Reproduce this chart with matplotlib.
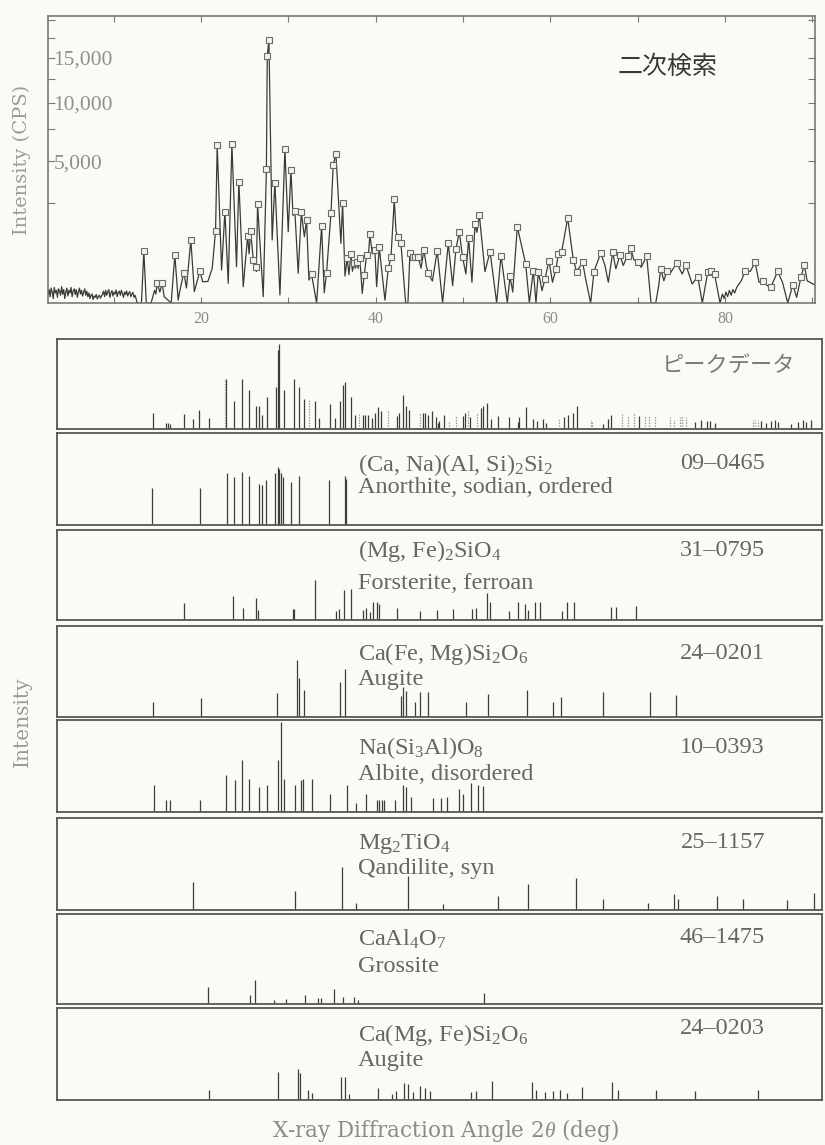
import numpy as np
import matplotlib
matplotlib.use("Agg")
import matplotlib.pyplot as plt
from matplotlib.ticker import FixedLocator, FuncFormatter

plt.rcParams["font.family"] = ["Liberation Serif", "DejaVu Serif"]
plt.rcParams["mathtext.fontset"] = "custom"
plt.rcParams["mathtext.rm"] = "Liberation Serif"
plt.rcParams["mathtext.it"] = "Liberation Serif:italic"

BG = "#fbfbf6"

# ---------------- data: measured pattern (top panel) ----------------
scan_start = 2.5
scan_step = 0.12
noise_cps = [20, 45, 10, 55, 30, 5, 60, 25, 40, 8, 50, 35, 15, 66, 20, 45, 5, 30, 55, 12,
             40, 25, 60, 10, 35, 50, 18, 45, 8, 30, 55, 20, 40, 12, 28, 50, 15, 35,
             10, 25, 5, 15, 20, 3, 12, 8, 18, 4, 10, 15, 6, 12,
             20, 35, 10, 40, 15, 30, 45, 8, 25, 38, 12, 30, 20, 42, 10, 28, 35, 15,
             40, 22, 8, 30, 18, 36, 12, 25, 32, 10, 20, 28, 8, 15, 5, 0]

peak_theta = [13.47, 15.0, 15.57, 17.02, 18.05, 18.85, 19.89, 21.68, 21.87, 22.75, 23.55, 24.35,
              25.35, 25.69, 26.0, 26.26, 26.49, 27.5, 27.6, 27.79, 28.47, 29.62, 30.31, 30.76,
              31.5, 32.1, 32.67, 33.82, 34.39, 34.89, 35.15, 35.46, 36.22, 36.75, 37.18, 37.52,
              37.83, 38.2, 38.7, 38.97, 39.35, 39.92, 40.42, 41.45, 41.76, 42.14, 42.52, 42.9,
              43.93, 44.24, 44.55, 44.89, 45.53, 46.03, 47.06, 48.32, 49.2, 49.58, 49.96, 50.65,
              51.38, 51.87, 53.1, 54.36, 55.38, 56.22, 57.18, 58.06, 58.63, 59.39, 59.85, 60.65,
              60.92, 61.3, 61.99, 62.63, 63.02, 63.7, 65.0, 65.77, 67.14, 67.98, 68.85, 69.2,
              70.0, 71.03, 72.64, 73.33, 74.47, 75.54, 76.88, 78.02, 78.35, 78.8, 82.3, 83.44,
              84.4, 85.23, 86.04, 87.76, 88.7, 89.08]
peak_cps = [680, 95, 95, 573, 229, 987, 255, 1290, 6210, 2074, 6264, 3660,
            1117, 1300, 460, 328, 2423, 4446, 15177, 17206, 3600, 5876, 4400, 2105,
            2046, 1714, 205, 1475, 229, 2000, 4737, 5523, 2472, 497, 597, 404,
            424, 497, 195, 573, 1173, 699, 771, 299, 519, 2674, 1094, 886,
            614, 533, 533, 533, 699, 219, 683, 886, 725, 1268, 519, 1041,
            1552, 1944, 657, 559, 177, 1452, 378, 261, 245, 143, 447, 288,
            597, 657, 1797, 468, 245, 412, 245, 622, 639, 573, 557, 752,
            412, 557, 288, 250, 398, 353, 172, 234, 250, 209, 250, 412,
            117, 61, 250, 83, 172, 359]

valley_theta = [12.75, 13.2, 13.75, 14.3, 14.7, 14.85, 15.3, 15.8, 16.6, 17.4, 17.6, 18.35,
                19.25, 20.2, 20.8, 21.3, 22.37, 23.13, 24.08, 24.85, 25.52, 26.12, 26.35, 27.14,
                28.16, 29.05, 30.0, 30.55, 31.14, 31.85, 32.37, 33.25, 34.12, 36.03, 36.5, 36.95,
                37.35, 37.68, 38.0, 38.47, 39.15, 39.62, 40.12, 41.07, 42.33, 43.44, 43.7, 44.4,
                44.72, 45.2, 45.8, 46.5, 47.67, 48.82, 50.34, 51.03, 51.6, 52.52, 53.86, 55.08,
                55.7, 57.6, 58.36, 59.05, 60.25, 64.08, 64.62, 66.26, 66.64, 67.5, 68.35, 69.55,
                70.4, 70.6, 71.53, 72.07, 72.38, 73.0, 73.8, 75.1, 76.24, 77.4, 79.43, 79.7,
                79.9, 80.1, 80.3, 80.5, 80.7, 80.9, 81.1, 81.34, 81.86, 82.9, 83.9, 84.8,
                86.6, 87.18, 88.2, 89.4, 90.3]
valley_cps = [0, 0, 0, 0, 40, 20, 30, 10, 0, 2, 40, 56,
              32, 113, 115, 300, 271, 97, 328, 66, 600, 300, 250, 10,
              987, 16, 1265, 1900, 219, 1094, 131, 0, 26, 886, 180, 200,
              250, 300, 300, 23, 500, 600, 66, 2, 1300, 0, 0, 480,
              480, 300, 350, 120, 0, 75, 209, 107, 1243, 245, 0, 0,
              30, 0, 0, 38, 107, 125, 0, 348, 107, 291, 350, 470,
              317, 380, 0, 0, 61, 123, 234, 209, 90, 0, 0, 20,
              5, 30, 10, 40, 15, 45, 25, 61, 123, 250, 107, 77,
              100, 0, 8, 123, 80]

x_ticks = [10, 20, 30, 40, 50, 60, 70, 80, 90]
x_tick_labels = {20: "20", 40: "40", 60: "60", 80: "80"}
y_ticks = [2500, 5000, 7500, 10000, 12500, 15000, 17500, 20000]
y_tick_labels = {5000: "5,000", 10000: "10,000", 15000: "15,000"}

# ---------------- data: peak list (matched / unmatched) ----------------
peaklist_theta = [13.49, 15.01, 15.24, 15.51, 17.05, 18.15, 18.84, 19.92, 21.94, 22.79, 23.71, 24.51,
                  25.35, 25.73, 26.04, 26.58, 27.64, 27.84, 27.99, 28.53, 29.74, 30.32, 30.82, 32.12,
                  32.61, 33.84, 34.45, 34.96, 35.3, 35.57, 36.25, 36.75, 37.6, 37.86, 38.17, 38.67,
                  39.04, 39.39, 39.7, 41.5, 41.8, 42.19, 42.57, 42.88, 44.49, 44.78, 45.1, 45.52,
                  46.01, 46.21, 46.39, 46.97, 49.08, 49.34, 49.95, 51.18, 51.44, 51.87, 52.33, 53.1,
                  54.43, 55.39, 55.58, 56.35, 57.12, 57.61, 58.26, 58.64, 60.74, 61.13, 61.71, 62.17,
                  65.22, 65.79, 66.1, 69.24, 75.67, 76.44, 77.05, 77.39, 77.97, 83.25, 83.9, 84.47,
                  84.85, 85.24, 86.77, 87.54, 88.11, 88.49, 89.07]
peaklist_height = [18, 7, 7, 6, 17, 11, 21, 12, 56, 31, 56, 43,
                   25, 26, 16, 35, 47, 88, 94, 43, 56, 47, 33, 31,
                   12, 28, 12, 31, 49, 52, 35, 16, 15, 16, 16, 12,
                   18, 24, 20, 14, 18, 38, 25, 21, 18, 18, 15, 20,
                   13, 7, 9, 15, 14, 18, 13, 23, 26, 29, 11, 14,
                   13, 8, 13, 24, 11, 9, 11, 7, 13, 15, 18, 26,
                   6, 11, 15, 14, 8, 10, 9, 9, 7, 9, 7, 9,
                   10, 8, 6, 8, 10, 8, 10]
unmatched_theta = [21.82, 31.47, 37.21, 40.47, 44.18, 47.54, 48.31, 49.65, 50.69, 60.1, 63.81, 63.92,
                   67.33, 68.02, 68.78, 69.93, 70.5, 71.08, 72.8, 73.37, 73.95, 74.22, 74.72, 82.37,
                   82.64, 82.95]
unmatched_height = [56, 33, 18, 21, 18, 8, 16, 20, 18, 11, 10, 8,
                    17, 15, 18, 15, 15, 14, 13, 10, 13, 14, 13, 10,
                    10, 10]

# ---------------- data: reference cards ----------------
card_codes = ["09\u20130465", "31\u20130795", "24\u20130201", "10\u20130393",
              "25\u20131157", "46\u20131475", "24\u20130203"]
card_formulas = [r"(Ca, Na)(Al, Si)$_\mathrm{2}$Si$_\mathrm{2}$",
                 r"(Mg, Fe)$_\mathrm{2}$SiO$_\mathrm{4}$",
                 r"Ca(Fe, Mg)Si$_\mathrm{2}$O$_\mathrm{6}$",
                 r"Na(Si$_\mathrm{3}$Al)O$_\mathrm{8}$",
                 r"Mg$_\mathrm{2}$TiO$_\mathrm{4}$",
                 r"CaAl$_\mathrm{4}$O$_\mathrm{7}$",
                 r"Ca(Mg, Fe)Si$_\mathrm{2}$O$_\mathrm{6}$"]
card_names = ["Anorthite, sodian, ordered", "Forsterite, ferroan", "Augite",
              "Albite, disordered", "Qandilite, syn", "Grossite", "Augite"]

anorthite_theta = [13.42, 18.94, 21.96, 22.87, 23.72, 24.5, 25.7, 26.01, 26.5, 27.52, 27.83, 28.0,
                   28.18, 28.49, 29.33, 30.3, 33.74, 35.55, 35.7]
anorthite_height = [40, 40, 56, 52, 58, 53, 45, 43, 49, 56, 63, 61,
                    56, 52, 47, 53, 49, 53, 50]
forsterite_theta = [17.13, 22.74, 23.83, 25.34, 25.58, 29.57, 29.69, 32.11, 34.52, 34.83, 35.43, 36.22,
                    37.67, 37.97, 38.45, 38.76, 39.24, 39.48, 41.48, 44.19, 46.13, 47.94, 50.11, 50.54,
                    51.87, 52.22, 54.35, 55.37, 56.16, 56.59, 57.37, 57.96, 60.51, 61.0, 61.83, 66.07,
                    66.67, 68.96]
forsterite_height = [19, 27, 13, 24, 11, 12, 12, 44, 10, 12, 33, 34,
                     11, 13, 9, 20, 20, 18, 13, 10, 11, 12, 12, 13,
                     30, 20, 10, 20, 18, 11, 20, 20, 10, 20, 20, 15,
                     15, 16]
augite1_theta = [13.56, 19.0, 27.7, 30.0, 30.3, 30.9, 35.01, 35.61, 41.96, 42.26, 42.56, 43.59,
                 44.19, 45.09, 49.45, 51.93, 56.46, 59.42, 60.39, 65.16, 70.6, 73.5]
augite1_height = [17, 21, 26, 63, 43, 30, 38, 53, 23, 33, 29, 17,
                  28, 28, 16, 25, 30, 17, 22, 28, 28, 24]
albite_theta = [13.67, 15.0, 15.49, 18.93, 21.95, 22.98, 23.76, 24.55, 25.7, 26.61, 27.82, 28.18,
                28.6, 29.81, 30.54, 30.72, 31.74, 33.85, 35.73, 36.76, 37.97, 39.17, 39.48, 39.78,
                40.08, 41.29, 42.2, 42.5, 43.11, 45.7, 46.61, 47.21, 48.66, 49.15, 50.05, 50.78,
                51.44]
albite_height = [29, 13, 13, 13, 40, 35, 56, 36, 27, 29, 56, 98,
                 36, 29, 35, 36, 36, 20, 29, 10, 20, 13, 13, 13,
                 13, 13, 29, 27, 16, 15, 15, 16, 25, 20, 32, 29,
                 28]
qandilite_theta = [18.09, 29.87, 35.19, 36.82, 42.74, 46.79, 53.13, 56.58, 62.02, 65.22, 70.35, 73.37,
                   73.8, 78.21, 81.24, 86.24, 89.39]
qandilite_height = [30, 21, 47, 8, 37, 7, 15, 28, 35, 12, 8, 17,
                    12, 15, 12, 11, 19]
grossite_theta = [19.84, 24.67, 25.28, 27.39, 28.78, 31.02, 32.41, 32.83, 34.34, 35.3, 36.63, 37.06,
                  51.56]
grossite_height = [19, 10, 27, 5, 6, 10, 7, 7, 17, 8, 8, 5,
                   12]
augite2_theta = [19.96, 27.82, 30.11, 30.41, 31.32, 31.74, 35.13, 35.55, 36.04, 39.3, 40.98, 41.41,
                 42.32, 42.8, 43.41, 44.19, 44.74, 45.34, 50.06, 50.54, 52.47, 57.0, 57.43, 58.52,
                 59.42, 60.2, 61.05, 62.74, 66.24, 66.85, 71.2, 75.74, 82.98]
augite2_height = [11, 30, 34, 29, 11, 8, 25, 25, 6, 13, 7, 10,
                  19, 17, 9, 15, 13, 10, 9, 10, 21, 20, 11, 9,
                  10, 11, 8, 14, 20, 11, 11, 10, 11]

card_theta = [anorthite_theta, forsterite_theta, augite1_theta, albite_theta,
              qandilite_theta, grossite_theta, augite2_theta]
card_height = [anorthite_height, forsterite_height, augite1_height, albite_height,
               qandilite_height, grossite_height, augite2_height]

# ---------------- layout (pixels of the 825 x 1145 canvas) ----------------
W, H = 825, 1145
XMIN, XMAX = 2.5, 90.3

fig = plt.figure(figsize=(W / 100, H / 100), dpi=100, facecolor=BG)


def px_axes(left, top, right, bottom):
    return fig.add_axes([left / W, 1 - bottom / H, (right - left) / W, (bottom - top) / H])


# ---------------- top panel ----------------
ax = px_axes(48, 16, 815, 303)
ax.set_facecolor(BG)
ax.set_yscale("function", functions=(lambda v: np.sqrt(np.maximum(v, 0)), lambda v: np.square(v)))

noise_theta = [scan_start + i * scan_step for i in range(len(noise_cps))]
pts = sorted(zip(noise_theta + valley_theta + peak_theta, noise_cps + valley_cps + peak_cps))
ax.plot([p[0] for p in pts], [p[1] for p in pts], color="#3a3a3a", lw=0.9, zorder=2)
ax.plot(peak_theta, peak_cps, ls="none", marker="s", ms=4.4, mfc="#f2f2ec", mec="#6a6a6a",
        mew=0.8, zorder=3)

ax.set_xlim(XMIN, XMAX)
ax.set_ylim(0, 20500)
ax.xaxis.set_major_locator(FixedLocator(x_ticks))
ax.xaxis.set_major_formatter(FuncFormatter(lambda v, p: x_tick_labels.get(int(round(v)), "")))
ax.yaxis.set_major_locator(FixedLocator(y_ticks))
ax.yaxis.set_major_formatter(FuncFormatter(lambda v, p: y_tick_labels.get(int(round(v)), "")))
ax.yaxis.set_minor_locator(FixedLocator([]))
ax.tick_params(axis="x", direction="in", top=True, length=4, width=0.8, color="#777777",
               labelsize=11.5, labelcolor="#8a8a8a", pad=6)
ax.tick_params(axis="y", direction="in", right=True, length=5, width=0.8, color="#777777",
               labelsize=15.5, labelcolor="#8f8f8f", pad=-4)
for lab in ax.get_yticklabels():
    lab.set_horizontalalignment("left")
for s in ax.spines.values():
    s.set_color("#6e6e6e")
    s.set_linewidth(1.1)

ax.text(0.808, 0.822, "二次検索", transform=ax.transAxes, ha="center", va="center",
        fontsize=18, color="#383838", family=["Noto Sans CJK JP", "DejaVu Sans"])

fig.text(22 / W, 1 - 160 / H, "Intensity (CPS)", rotation=90, ha="center", va="center",
         fontsize=14, color="#9a9a9a", family=["DejaVu Serif"])

# ---------------- stick panels ----------------
panel_px = [(339, 429), (433, 525), (530, 620), (626, 717), (720, 812),
            (818, 910), (914, 1004), (1008, 1100)]
formula_off = [28.4, 17.3, 24.7, 25.0, 22.3, 22.7, 23.3]
name_off = [51.7, 50.7, 51.3, 52.3, 47.7, 50.0, 50.0]
code_off = [28.4, 18.0, 24.7, 25.0, 22.3, 21.0, 18.3]
PL, PR = 57, 822


def stick_axes(top, bottom):
    a = px_axes(PL, top, PR, bottom)
    a.set_facecolor(BG)
    a.set_xlim(XMIN, XMAX)
    a.set_ylim(0, 100)
    a.set_xticks([])
    a.set_yticks([])
    for s in a.spines.values():
        s.set_color("#555555")
        s.set_linewidth(1.3)
    return a


a0 = stick_axes(*panel_px[0])
a0.vlines(peaklist_theta, 0, peaklist_height, colors="#3c3c3c", lw=0.9)
a0.vlines(unmatched_theta, 0, unmatched_height, colors="#9a9a9a", lw=0.9, linestyles=(0, (1.2, 1.0)))
a0.text(0.965, 0.71, "ピークデータ", transform=a0.transAxes, ha="right", va="center",
        fontsize=16, color="#7a7a7a", family=["Noto Sans CJK JP", "DejaVu Sans"])

for i in range(7):
    top, bottom = panel_px[i + 1]
    h = bottom - top
    a = stick_axes(top, bottom)
    a.vlines(card_theta[i], 0, card_height[i], colors="#3c3c3c", lw=0.9)
    xf = (358 - PL) / (PR - PL)
    xc = (765 - PL) / (PR - PL)
    a.text(xf, 1 - formula_off[i] / h, card_formulas[i], transform=a.transAxes, ha="left",
           va="center_baseline", fontsize=17.5, color="#666666")
    a.text(xf, 1 - name_off[i] / h, card_names[i], transform=a.transAxes, ha="left",
           va="center_baseline", fontsize=17.5, color="#666666")
    a.text(xc, 1 - code_off[i] / h, card_codes[i], transform=a.transAxes, ha="right",
           va="center_baseline", fontsize=17.5, color="#666666")

fig.text(22 / W, 1 - 722 / H, "Intensity", rotation=90, ha="center", va="center",
         fontsize=14.5, color="#9a9a9a", family=["DejaVu Serif"])
fig.text(445 / W, 1 - 1131 / H, r"X-ray Diffraction Angle 2$\theta$ (deg)", ha="center",
         va="center", fontsize=15.5, color="#8a8a8a", family=["DejaVu Serif"])

fig.savefig("out.png", dpi=100, facecolor=BG)
